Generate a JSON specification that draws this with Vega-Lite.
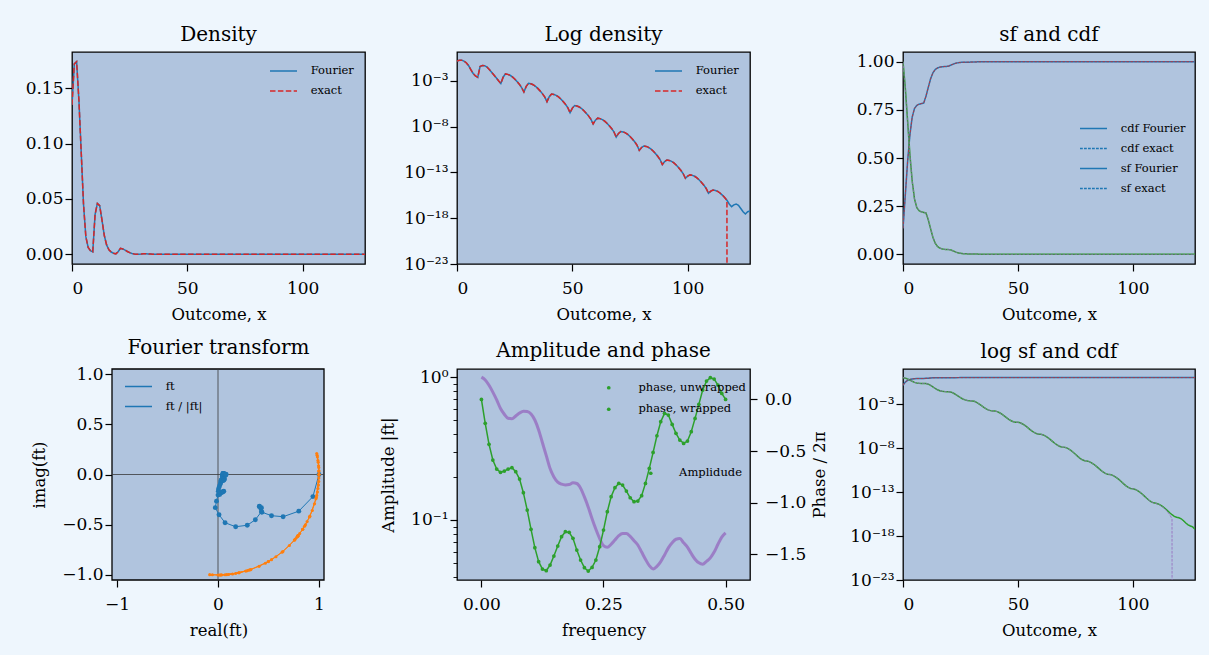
{
"$schema": "https://vega.github.io/schema/vega-lite/v6.json",
"autosize": "none",
"padding": {"left": 71, "top": 52, "right": 1138, "bottom": 603},
"background": "#eef6fd",
"datasets": {
"dens": [
{"x":0,"F":0.135,"E":0.135},{"x":1,"F":0.172,"E":0.172},{"x":2,"F":0.174,"E":0.174},{"x":3,"F":0.139,"E":0.139},{"x":4,"F":0.092,"E":0.092},{"x":5,"F":0.045,"E":0.045},{"x":6,"F":0.016,"E":0.016},{"x":7,"F":0.0062,"E":0.0062},{"x":8,"F":0.0033,"E":0.0033},{"x":9,"F":0.0023,"E":0.0023},
{"x":10,"F":0.036,"E":0.036},{"x":11,"F":0.046,"E":0.046},{"x":12,"F":0.044,"E":0.044},{"x":13,"F":0.031,"E":0.031},{"x":14,"F":0.017,"E":0.017},{"x":15,"F":0.0085,"E":0.0085},{"x":16,"F":0.0042,"E":0.0042},{"x":17,"F":0.0021,"E":0.0021},{"x":18,"F":0.001,"E":0.001},{"x":19,"F":0.0005,"E":0.0005},
{"x":20,"F":0.0024,"E":0.0024},{"x":21,"F":0.0055,"E":0.0055},{"x":22,"F":0.0049,"E":0.0049},{"x":23,"F":0.0039,"E":0.0039},{"x":24,"F":0.0026,"E":0.0026},{"x":25,"F":0.00155,"E":0.00155},{"x":26,"F":0.00083,"E":0.00083},{"x":27,"F":0.00042,"E":0.00042},{"x":28,"F":0.00018,"E":0.00018},{"x":29,"F":5.75e-5,"E":5.75e-5},
{"x":30,"F":2.4e-4,"E":2.4e-4},{"x":31,"F":5.13e-4,"E":5.13e-4},{"x":32,"F":4.57e-4,"E":4.57e-4},{"x":33,"F":3.63e-4,"E":3.63e-4},{"x":34,"F":2.45e-4,"E":2.45e-4},{"x":35,"F":1.45e-4,"E":1.45e-4},{"x":36,"F":7.76e-5,"E":7.76e-5},{"x":37,"F":3.89e-5,"E":3.89e-5},{"x":38,"F":1.7e-5,"E":1.7e-5},{"x":39,"F":5.13e-6,"E":5.13e-6},
{"x":40,"F":1.82e-5,"E":1.82e-5},{"x":41,"F":3.55e-5,"E":3.55e-5},{"x":42,"F":3.16e-5,"E":3.16e-5},{"x":43,"F":2.51e-5,"E":2.51e-5},{"x":44,"F":1.7e-5,"E":1.7e-5},{"x":45,"F":1.0e-5,"E":1.0e-5},{"x":46,"F":5.37e-6,"E":5.37e-6},{"x":47,"F":2.69e-6,"E":2.69e-6},{"x":48,"F":1.17e-6,"E":1.17e-6},{"x":49,"F":3.24e-7,"E":3.24e-7},
{"x":50,"F":1.02e-6,"E":1.02e-6},{"x":51,"F":1.91e-6,"E":1.91e-6},{"x":52,"F":1.7e-6,"E":1.7e-6},{"x":53,"F":1.35e-6,"E":1.35e-6},{"x":54,"F":9.12e-7,"E":9.12e-7},{"x":55,"F":5.37e-7,"E":5.37e-7},{"x":56,"F":2.88e-7,"E":2.88e-7},{"x":57,"F":1.45e-7,"E":1.45e-7},{"x":58,"F":6.31e-8,"E":6.31e-8},{"x":59,"F":1.91e-8,"E":1.91e-8},
{"x":60,"F":4.9e-8,"E":4.9e-8},{"x":61,"F":8.13e-8,"E":8.13e-8},{"x":62,"F":7.24e-8,"E":7.24e-8},{"x":63,"F":5.75e-8,"E":5.75e-8},{"x":64,"F":3.89e-8,"E":3.89e-8},{"x":65,"F":2.29e-8,"E":2.29e-8},{"x":66,"F":1.23e-8,"E":1.23e-8},{"x":67,"F":6.17e-9,"E":6.17e-9},{"x":68,"F":2.69e-9,"E":2.69e-9},{"x":69,"F":7.08e-10,"E":7.08e-10},
{"x":70,"F":1.78e-9,"E":1.78e-9},{"x":71,"F":2.88e-9,"E":2.88e-9},{"x":72,"F":2.57e-9,"E":2.57e-9},{"x":73,"F":2.04e-9,"E":2.04e-9},{"x":74,"F":1.38e-9,"E":1.38e-9},{"x":75,"F":8.13e-10,"E":8.13e-10},{"x":76,"F":4.37e-10,"E":4.37e-10},{"x":77,"F":2.19e-10,"E":2.19e-10},{"x":78,"F":9.55e-11,"E":9.55e-11},{"x":79,"F":2.51e-11,"E":2.51e-11},
{"x":80,"F":5.13e-11,"E":5.13e-11},{"x":81,"F":7.59e-11,"E":7.59e-11},{"x":82,"F":6.76e-11,"E":6.76e-11},{"x":83,"F":5.37e-11,"E":5.37e-11},{"x":84,"F":3.63e-11,"E":3.63e-11},{"x":85,"F":2.14e-11,"E":2.14e-11},{"x":86,"F":1.15e-11,"E":1.15e-11},{"x":87,"F":5.75e-12,"E":5.75e-12},{"x":88,"F":2.51e-12,"E":2.51e-12},{"x":89,"F":7.08e-13,"E":7.08e-13},
{"x":90,"F":1.48e-12,"E":1.48e-12},{"x":91,"F":2.24e-12,"E":2.24e-12},{"x":92,"F":2.0e-12,"E":2.0e-12},{"x":93,"F":1.58e-12,"E":1.58e-12},{"x":94,"F":1.07e-12,"E":1.07e-12},{"x":95,"F":6.31e-13,"E":6.31e-13},{"x":96,"F":3.39e-13,"E":3.39e-13},{"x":97,"F":1.7e-13,"E":1.7e-13},{"x":98,"F":7.41e-14,"E":7.41e-14},{"x":99,"F":2.24e-14,"E":2.24e-14},
{"x":100,"F":3.89e-14,"E":3.89e-14},{"x":101,"F":5.25e-14,"E":5.25e-14},{"x":102,"F":4.68e-14,"E":4.68e-14},{"x":103,"F":3.72e-14,"E":3.72e-14},{"x":104,"F":2.51e-14,"E":2.51e-14},{"x":105,"F":1.48e-14,"E":1.48e-14},{"x":106,"F":7.94e-15,"E":7.94e-15},{"x":107,"F":3.98e-15,"E":3.98e-15},{"x":108,"F":1.74e-15,"E":1.74e-15},{"x":109,"F":5.25e-16,"E":5.25e-16},
{"x":110,"F":8.91e-16,"E":8.91e-16},{"x":111,"F":1.17e-15,"E":1.17e-15},{"x":112,"F":1.05e-15,"E":1.05e-15},{"x":113,"F":8.32e-16,"E":8.32e-16},{"x":114,"F":5.62e-16,"E":5.62e-16},{"x":115,"F":3.31e-16,"E":3.31e-16},{"x":116,"F":1.78e-16,"E":1.78e-16},{"x":117,"F":8.91e-17,"E":8.91e-17},{"x":118,"F":3.55e-17,"E":1e-300},{"x":119,"F":1.78e-17,"E":1e-300},
{"x":120,"F":2.82e-17,"E":1e-300},{"x":121,"F":3.55e-17,"E":1e-300},{"x":122,"F":2.51e-17,"E":1e-300},{"x":123,"F":1.12e-17,"E":1e-300},{"x":124,"F":5.01e-18,"E":1e-300},{"x":125,"F":2.82e-18,"E":1e-300},{"x":126,"F":5.01e-18,"E":1e-300},{"x":127,"F":6.31e-18,"E":1e-300}
],
"cum": [
{"x":0,"cF":0.135,"cE":0.135,"sF":1,"sE":1},{"x":1,"cF":0.307,"cE":0.307,"sF":0.8647,"sE":0.8647},{"x":2,"cF":0.481,"cE":0.481,"sF":0.6927,"sE":0.6927},{"x":3,"cF":0.62,"cE":0.62,"sF":0.5187,"sE":0.5187},{"x":4,"cF":0.712,"cE":0.712,"sF":0.3797,"sE":0.3797},{"x":5,"cF":0.757,"cE":0.757,"sF":0.2877,"sE":0.2877},{"x":6,"cF":0.773,"cE":0.773,"sF":0.2427,"sE":0.2427},{"x":7,"cF":0.7792,"cE":0.7792,"sF":0.2267,"sE":0.2267},{"x":8,"cF":0.7825,"cE":0.7825,"sF":0.2205,"sE":0.2205},{"x":9,"cF":0.7848,"cE":0.7848,"sF":0.2172,"sE":0.2172},
{"x":10,"cF":0.8208,"cE":0.8208,"sF":0.2149,"sE":0.2149},{"x":11,"cF":0.8668,"cE":0.8668,"sF":0.1789,"sE":0.1789},{"x":12,"cF":0.9108,"cE":0.9108,"sF":0.1329,"sE":0.1329},{"x":13,"cF":0.9418,"cE":0.9418,"sF":0.0889,"sE":0.0889},{"x":14,"cF":0.9588,"cE":0.9588,"sF":0.0579,"sE":0.0579},{"x":15,"cF":0.9673,"cE":0.9673,"sF":0.0409,"sE":0.0409},{"x":16,"cF":0.9715,"cE":0.9715,"sF":0.0324,"sE":0.0324},{"x":17,"cF":0.9736,"cE":0.9736,"sF":0.0282,"sE":0.0282},{"x":18,"cF":0.9746,"cE":0.9746,"sF":0.0261,"sE":0.0261},{"x":19,"cF":0.9751,"cE":0.9751,"sF":0.0251,"sE":0.0251},
{"x":20,"cF":0.9775,"cE":0.9775,"sF":0.0246,"sE":0.0246},{"x":21,"cF":0.983,"cE":0.983,"sF":0.0222,"sE":0.0222},{"x":22,"cF":0.9879,"cE":0.9879,"sF":0.0167,"sE":0.0167},{"x":23,"cF":0.9918,"cE":0.9918,"sF":0.0118,"sE":0.0118},{"x":24,"cF":0.9944,"cE":0.9944,"sF":0.0079,"sE":0.0079},{"x":25,"cF":0.99595,"cE":0.99595,"sF":0.0053,"sE":0.0053},{"x":26,"cF":0.99678,"cE":0.99678,"sF":0.00375,"sE":0.00375},{"x":27,"cF":0.9972,"cE":0.9972,"sF":0.00292,"sE":0.00292},{"x":28,"cF":0.99738,"cE":0.99738,"sF":0.0025,"sE":0.0025},{"x":29,"cF":0.99744,"cE":0.99744,"sF":0.00232,"sE":0.00232},
{"x":30,"cF":0.99768,"cE":0.99768,"sF":0.002257,"sE":0.002257},{"x":31,"cF":0.99819,"cE":0.99819,"sF":0.002017,"sE":0.002017},{"x":32,"cF":0.99865,"cE":0.99865,"sF":0.001504,"sE":0.001504},{"x":33,"cF":0.99901,"cE":0.99901,"sF":0.001047,"sE":0.001047},{"x":34,"cF":0.99926,"cE":0.99926,"sF":0.000684,"sE":0.000684},{"x":35,"cF":0.9994,"cE":0.9994,"sF":0.000439,"sE":0.000439},{"x":36,"cF":0.99948,"cE":0.99948,"sF":0.000294,"sE":0.000294},{"x":37,"cF":0.99952,"cE":0.99952,"sF":0.000216,"sE":0.000216},{"x":38,"cF":0.99954,"cE":0.99954,"sF":0.000177,"sE":0.000177},{"x":39,"cF":0.99954,"cE":0.99954,"sF":0.00016,"sE":0.00016},
{"x":40,"cF":0.99956,"cE":0.99956,"sF":1.553e-4,"sE":1.553e-4},{"x":41,"cF":0.9996,"cE":0.9996,"sF":1.371e-4,"sE":1.371e-4},{"x":42,"cF":0.99963,"cE":0.99963,"sF":1.016e-4,"sE":1.016e-4},{"x":43,"cF":0.99966,"cE":0.99966,"sF":7.0e-5,"sE":7.0e-5},{"x":44,"cF":0.99968,"cE":0.99968,"sF":4.49e-5,"sE":4.49e-5},{"x":45,"cF":0.9997,"cE":0.9997,"sF":2.79e-5,"sE":2.79e-5},{"x":46,"cF":0.9997,"cE":0.9997,"sF":1.79e-5,"sE":1.79e-5},{"x":47,"cF":0.9997,"cE":0.9997,"sF":1.253e-5,"sE":1.253e-5},{"x":48,"cF":0.9997,"cE":0.9997,"sF":9.84e-6,"sE":9.84e-6},{"x":49,"cF":0.9997,"cE":0.9997,"sF":8.62e-6,"sE":8.62e-6},
{"x":50,"cF":0.9997,"cE":0.9997,"sF":8.3e-6,"sE":8.3e-6},{"x":51,"cF":0.9997,"cE":0.9997,"sF":7.28e-6,"sE":7.28e-6},{"x":52,"cF":0.9997,"cE":0.9997,"sF":5.37e-6,"sE":5.37e-6},{"x":53,"cF":0.9997,"cE":0.9997,"sF":3.67e-6,"sE":3.67e-6},{"x":54,"cF":0.9997,"cE":0.9997,"sF":2.32e-6,"sE":2.32e-6},{"x":55,"cF":0.9997,"cE":0.9997,"sF":1.408e-6,"sE":1.408e-6},{"x":56,"cF":0.9997,"cE":0.9997,"sF":8.71e-7,"sE":8.71e-7},{"x":57,"cF":0.9997,"cE":0.9997,"sF":5.83e-7,"sE":5.83e-7},{"x":58,"cF":0.9997,"cE":0.9997,"sF":4.38e-7,"sE":4.38e-7},{"x":59,"cF":0.9997,"cE":0.9997,"sF":3.75e-7,"sE":3.75e-7},
{"x":60,"cF":0.9997,"cE":0.9997,"sF":3.565e-7,"sE":3.565e-7},{"x":61,"cF":0.9997,"cE":0.9997,"sF":3.075e-7,"sE":3.075e-7},{"x":62,"cF":0.9997,"cE":0.9997,"sF":2.262e-7,"sE":2.262e-7},{"x":63,"cF":0.9997,"cE":0.9997,"sF":1.538e-7,"sE":1.538e-7},{"x":64,"cF":0.9997,"cE":0.9997,"sF":9.63e-8,"sE":9.63e-8},{"x":65,"cF":0.9997,"cE":0.9997,"sF":5.74e-8,"sE":5.74e-8},{"x":66,"cF":0.9997,"cE":0.9997,"sF":3.45e-8,"sE":3.45e-8},{"x":67,"cF":0.9997,"cE":0.9997,"sF":2.22e-8,"sE":2.22e-8},{"x":68,"cF":0.9997,"cE":0.9997,"sF":1.603e-8,"sE":1.603e-8},{"x":69,"cF":0.9997,"cE":0.9997,"sF":1.334e-8,"sE":1.334e-8},
{"x":70,"cF":0.9997,"cE":0.9997,"sF":1.258e-8,"sE":1.258e-8},{"x":71,"cF":0.9997,"cE":0.9997,"sF":1.08e-8,"sE":1.08e-8},{"x":72,"cF":0.9997,"cE":0.9997,"sF":7.92e-9,"sE":7.92e-9},{"x":73,"cF":0.9997,"cE":0.9997,"sF":5.35e-9,"sE":5.35e-9},{"x":74,"cF":0.9997,"cE":0.9997,"sF":3.31e-9,"sE":3.31e-9},{"x":75,"cF":0.9997,"cE":0.9997,"sF":1.93e-9,"sE":1.93e-9},{"x":76,"cF":0.9997,"cE":0.9997,"sF":1.117e-9,"sE":1.117e-9},{"x":77,"cF":0.9997,"cE":0.9997,"sF":6.8e-10,"sE":6.8e-10},{"x":78,"cF":0.9997,"cE":0.9997,"sF":4.61e-10,"sE":4.61e-10},{"x":79,"cF":0.9997,"cE":0.9997,"sF":3.655e-10,"sE":3.655e-10},
{"x":80,"cF":0.9997,"cE":0.9997,"sF":3.365e-10,"sE":3.365e-10},{"x":81,"cF":0.9997,"cE":0.9997,"sF":2.852e-10,"sE":2.852e-10},{"x":82,"cF":0.9997,"cE":0.9997,"sF":2.093e-10,"sE":2.093e-10},{"x":83,"cF":0.9997,"cE":0.9997,"sF":1.417e-10,"sE":1.417e-10},{"x":84,"cF":0.9997,"cE":0.9997,"sF":8.8e-11,"sE":8.8e-11},{"x":85,"cF":0.9997,"cE":0.9997,"sF":5.17e-11,"sE":5.17e-11},{"x":86,"cF":0.9997,"cE":0.9997,"sF":3.03e-11,"sE":3.03e-11},{"x":87,"cF":0.9997,"cE":0.9997,"sF":1.88e-11,"sE":1.88e-11},{"x":88,"cF":0.9997,"cE":0.9997,"sF":1.305e-11,"sE":1.305e-11},{"x":89,"cF":0.9997,"cE":0.9997,"sF":1.054e-11,"sE":1.054e-11},
{"x":90,"cF":0.9997,"cE":0.9997,"sF":9.841e-12,"sE":9.841e-12},{"x":91,"cF":0.9997,"cE":0.9997,"sF":8.36e-12,"sE":8.36e-12},{"x":92,"cF":0.9997,"cE":0.9997,"sF":6.12e-12,"sE":6.12e-12},{"x":93,"cF":0.9997,"cE":0.9997,"sF":4.12e-12,"sE":4.12e-12},{"x":94,"cF":0.9997,"cE":0.9997,"sF":2.54e-12,"sE":2.54e-12},{"x":95,"cF":0.9997,"cE":0.9997,"sF":1.47e-12,"sE":1.47e-12},{"x":96,"cF":0.9997,"cE":0.9997,"sF":8.39e-13,"sE":8.39e-13},{"x":97,"cF":0.9997,"cE":0.9997,"sF":5.0e-13,"sE":5.0e-13},{"x":98,"cF":0.9997,"cE":0.9997,"sF":3.3e-13,"sE":3.3e-13},{"x":99,"cF":0.9997,"cE":0.9997,"sF":2.56e-13,"sE":2.56e-13},
{"x":100,"cF":0.9997,"cE":0.9997,"sF":2.348e-13,"sE":2.348e-13},{"x":101,"cF":0.9997,"cE":0.9997,"sF":1.959e-13,"sE":1.959e-13},{"x":102,"cF":0.9997,"cE":0.9997,"sF":1.434e-13,"sE":1.434e-13},{"x":103,"cF":0.9997,"cE":0.9997,"sF":9.66e-14,"sE":9.66e-14},{"x":104,"cF":0.9997,"cE":0.9997,"sF":5.94e-14,"sE":5.94e-14},{"x":105,"cF":0.9997,"cE":0.9997,"sF":3.43e-14,"sE":3.43e-14},{"x":106,"cF":0.9997,"cE":0.9997,"sF":1.95e-14,"sE":1.95e-14},{"x":107,"cF":0.9997,"cE":0.9997,"sF":1.156e-14,"sE":1.156e-14},{"x":108,"cF":0.9997,"cE":0.9997,"sF":7.58e-15,"sE":7.58e-15},{"x":109,"cF":0.9997,"cE":0.9997,"sF":5.84e-15,"sE":5.84e-15},
{"x":110,"cF":0.9997,"cE":0.9997,"sF":5.275e-15,"sE":5.103e-15},{"x":111,"cF":0.9997,"cE":0.9997,"sF":4.384e-15,"sE":4.212e-15},{"x":112,"cF":0.9997,"cE":0.9997,"sF":3.214e-15,"sE":3.042e-15},{"x":113,"cF":0.9997,"cE":0.9997,"sF":2.164e-15,"sE":1.992e-15},{"x":114,"cF":0.9997,"cE":0.9997,"sF":1.332e-15,"sE":1.16e-15},{"x":115,"cF":0.9997,"cE":0.9997,"sF":7.7e-16,"sE":5.98e-16},{"x":116,"cF":0.9997,"cE":0.9997,"sF":4.39e-16,"sE":2.67e-16},{"x":117,"cF":0.9997,"cE":0.9997,"sF":2.61e-16,"sE":8.9e-17},{"x":118,"cF":0.9997,"cE":0.9997,"sF":1.72e-16,"sE":1e-300},{"x":119,"cF":0.9997,"cE":0.9997,"sF":1.365e-16,"sE":1e-300},
{"x":120,"cF":0.9997,"cE":0.9997,"sF":1.187e-16,"sE":1e-300},{"x":121,"cF":0.9997,"cE":0.9997,"sF":9.05e-17,"sE":1e-300},{"x":122,"cF":0.9997,"cE":0.9997,"sF":5.5e-17,"sE":1e-300},{"x":123,"cF":0.9997,"cE":0.9997,"sF":2.99e-17,"sE":1e-300},{"x":124,"cF":0.9997,"cE":0.9997,"sF":1.87e-17,"sE":1e-300},{"x":125,"cF":0.9997,"cE":0.9997,"sF":1.369e-17,"sE":1e-300},{"x":126,"cF":0.9997,"cE":0.9997,"sF":1.087e-17,"sE":1e-300},{"x":127,"cF":0.9997,"cE":0.9997,"sF":5.86e-18,"sE":1e-300}
],
"ft": [
{"k":0,"re":1,"im":0,"nr":1,"ni":0},{"k":1,"re":0.94,"im":-0.22,"nr":0.974,"ni":-0.228},{"k":2,"re":0.8,"im":-0.365,"nr":0.91,"ni":-0.415},{"k":3,"re":0.645,"im":-0.42,"nr":0.838,"ni":-0.546},{"k":4,"re":0.53,"im":-0.41,"nr":0.791,"ni":-0.612},{"k":5,"re":0.435,"im":-0.375,"nr":0.757,"ni":-0.653},{"k":6,"re":0.43,"im":-0.33,"nr":0.793,"ni":-0.609},{"k":7,"re":0.41,"im":-0.315,"nr":0.793,"ni":-0.609},{"k":8,"re":0.41,"im":-0.32,"nr":0.788,"ni":-0.616},{"k":9,"re":0.425,"im":-0.34,"nr":0.78,"ni":-0.625},
{"k":10,"re":0.43,"im":-0.37,"nr":0.758,"ni":-0.652},{"k":11,"re":0.37,"im":-0.45,"nr":0.635,"ni":-0.773},{"k":12,"re":0.29,"im":-0.505,"nr":0.498,"ni":-0.867},{"k":13,"re":0.175,"im":-0.52,"nr":0.319,"ni":-0.948},{"k":14,"re":0.07,"im":-0.48,"nr":0.144,"ni":-0.99},{"k":15,"re":0.01,"im":-0.4,"nr":0.025,"ni":-1.0},{"k":16,"re":-0.027,"im":-0.33,"nr":-0.082,"ni":-0.997},{"k":17,"re":-0.015,"im":-0.265,"nr":-0.056,"ni":-0.998},{"k":18,"re":0.0,"im":-0.205,"nr":0.0,"ni":-1.0},{"k":19,"re":0.017,"im":-0.199,"nr":0.087,"ni":-0.996},
{"k":20,"re":0.038,"im":-0.18,"nr":0.208,"ni":-0.978},{"k":21,"re":0.052,"im":-0.17,"nr":0.292,"ni":-0.956},{"k":22,"re":0.057,"im":-0.166,"nr":0.326,"ni":-0.946},{"k":23,"re":0.049,"im":-0.17,"nr":0.276,"ni":-0.961},{"k":24,"re":0.032,"im":-0.179,"nr":0.174,"ni":-0.985},{"k":25,"re":0.013,"im":-0.18,"nr":0.07,"ni":-0.998},{"k":26,"re":0.003,"im":-0.167,"nr":0.017,"ni":-1.0},{"k":27,"re":0.005,"im":-0.145,"nr":0.035,"ni":-0.999},{"k":28,"re":0.013,"im":-0.122,"nr":0.105,"ni":-0.995},{"k":29,"re":0.021,"im":-0.1,"nr":0.208,"ni":-0.978},
{"k":30,"re":0.027,"im":-0.082,"nr":0.309,"ni":-0.951},{"k":31,"re":0.03,"im":-0.068,"nr":0.407,"ni":-0.914},{"k":32,"re":0.031,"im":-0.058,"nr":0.469,"ni":-0.883},{"k":33,"re":0.032,"im":-0.055,"nr":0.5,"ni":-0.866},{"k":34,"re":0.036,"im":-0.058,"nr":0.53,"ni":-0.848},{"k":35,"re":0.041,"im":-0.059,"nr":0.574,"ni":-0.819},{"k":36,"re":0.05,"im":-0.06,"nr":0.643,"ni":-0.766},{"k":37,"re":0.057,"im":-0.057,"nr":0.707,"ni":-0.707},{"k":38,"re":0.061,"im":-0.051,"nr":0.766,"ni":-0.643},{"k":39,"re":0.062,"im":-0.045,"nr":0.809,"ni":-0.588},
{"k":40,"re":0.06,"im":-0.039,"nr":0.839,"ni":-0.545},{"k":41,"re":0.057,"im":-0.035,"nr":0.857,"ni":-0.515},{"k":42,"re":0.052,"im":-0.03,"nr":0.866,"ni":-0.5},{"k":43,"re":0.047,"im":-0.025,"nr":0.883,"ni":-0.469},{"k":44,"re":0.044,"im":-0.02,"nr":0.906,"ni":-0.423},{"k":45,"re":0.042,"im":-0.016,"nr":0.934,"ni":-0.358},{"k":46,"re":0.045,"im":-0.014,"nr":0.956,"ni":-0.292},{"k":47,"re":0.049,"im":-0.012,"nr":0.97,"ni":-0.242},{"k":48,"re":0.056,"im":-0.012,"nr":0.978,"ni":-0.208},{"k":49,"re":0.063,"im":-0.011,"nr":0.985,"ni":-0.174},
{"k":50,"re":0.068,"im":-0.01,"nr":0.99,"ni":-0.139},{"k":51,"re":0.073,"im":-0.008,"nr":0.995,"ni":-0.105},{"k":52,"re":0.074,"im":-0.005,"nr":0.998,"ni":-0.07},{"k":53,"re":0.069,"im":-0.002,"nr":0.999,"ni":-0.035},{"k":54,"re":0.065,"im":0.0,"nr":1.0,"ni":0.0},{"k":55,"re":0.058,"im":0.002,"nr":0.999,"ni":0.035},{"k":56,"re":0.053,"im":0.005,"nr":0.996,"ni":0.087},{"k":57,"re":0.05,"im":0.007,"nr":0.99,"ni":0.139},{"k":58,"re":0.048,"im":0.009,"nr":0.982,"ni":0.191},{"k":59,"re":0.05,"im":0.011,"nr":0.978,"ni":0.208},
{"k":60,"re":0.053,"im":0.009,"nr":0.985,"ni":0.174},{"k":61,"re":0.06,"im":0.007,"nr":0.993,"ni":0.122},{"k":62,"re":0.068,"im":0.005,"nr":0.998,"ni":0.07},{"k":63,"re":0.076,"im":0.003,"nr":0.999,"ni":0.035},{"k":64,"re":0.081,"im":0.0,"nr":1.0,"ni":0.0}
],
"amp": [
{"f":0,"a":1.0,"p":0.0},{"f":0.0078,"a":0.955,"p":-0.232},{"f":0.0156,"a":0.877,"p":-0.435},{"f":0.0234,"a":0.785,"p":-0.587},{"f":0.0313,"a":0.692,"p":-0.674},{"f":0.0391,"a":0.603,"p":-0.706},{"f":0.0469,"a":0.55,"p":-0.694},{"f":0.0547,"a":0.515,"p":-0.674},{"f":0.0625,"a":0.511,"p":-0.661},{"f":0.0703,"a":0.535,"p":-0.7},
{"f":0.0781,"a":0.56,"p":-0.771},{"f":0.0859,"a":0.578,"p":-0.903},{"f":0.0938,"a":0.575,"p":-1.071},{"f":0.1016,"a":0.552,"p":-1.258},{"f":0.1094,"a":0.501,"p":-1.435},{"f":0.1172,"a":0.427,"p":-1.571},{"f":0.125,"a":0.347,"p":-1.642},{"f":0.1328,"a":0.282,"p":-1.658},{"f":0.1406,"a":0.229,"p":-1.603},{"f":0.1484,"a":0.2,"p":-1.516},
{"f":0.1563,"a":0.184,"p":-1.419},{"f":0.1641,"a":0.178,"p":-1.329},{"f":0.1719,"a":0.176,"p":-1.281},{"f":0.1797,"a":0.177,"p":-1.287},{"f":0.1875,"a":0.182,"p":-1.345},{"f":0.1953,"a":0.18,"p":-1.458},{"f":0.2031,"a":0.167,"p":-1.555},{"f":0.2109,"a":0.145,"p":-1.629},{"f":0.2188,"a":0.123,"p":-1.661},{"f":0.2266,"a":0.102,"p":-1.626},
{"f":0.2344,"a":0.0861,"p":-1.555},{"f":0.2422,"a":0.0741,"p":-1.426},{"f":0.25,"a":0.0661,"p":-1.265},{"f":0.2578,"a":0.0643,"p":-1.087},{"f":0.2656,"a":0.0676,"p":-0.942},{"f":0.2734,"a":0.0724,"p":-0.855},{"f":0.2813,"a":0.0776,"p":-0.813},{"f":0.2891,"a":0.0804,"p":-0.829},{"f":0.2969,"a":0.0804,"p":-0.887},{"f":0.3047,"a":0.0767,"p":-0.952},
{"f":0.3125,"a":0.0716,"p":-0.99},{"f":0.3203,"a":0.0668,"p":-0.984},{"f":0.3281,"a":0.0596,"p":-0.932},{"f":0.3359,"a":0.0531,"p":-0.813},{"f":0.3438,"a":0.0479,"p":-0.668},{"f":0.3516,"a":0.0454,"p":-0.513},{"f":0.3594,"a":0.0473,"p":-0.352},{"f":0.3672,"a":0.0511,"p":-0.216},{"f":0.375,"a":0.0569,"p":-0.135},{"f":0.3828,"a":0.0638,"p":-0.152},
{"f":0.3906,"a":0.0692,"p":-0.242},{"f":0.3984,"a":0.0733,"p":-0.329},{"f":0.4063,"a":0.0741,"p":-0.394},{"f":0.4141,"a":0.0692,"p":-0.426},{"f":0.4219,"a":0.0646,"p":-0.403},{"f":0.4297,"a":0.0582,"p":-0.313},{"f":0.4375,"a":0.0531,"p":-0.184},{"f":0.4453,"a":0.0501,"p":-0.048},{"f":0.4531,"a":0.049,"p":0.09},{"f":0.4609,"a":0.0513,"p":0.177},
{"f":0.4688,"a":0.0543,"p":0.21},{"f":0.4766,"a":0.0596,"p":0.197},{"f":0.4844,"a":0.0676,"p":0.139},{"f":0.4922,"a":0.0759,"p":0.058},{"f":0.5,"a":0.0813,"p":0.0}
]
},
"columns": 6,
"bounds": "flush",
"spacing": {"row": 105, "column": 0},
"concat": [
{"width": 1, "height": 212, "data": {"values": [{}]}, "mark": {"type": "text", "text": ""}, "view": {"stroke": null, "fill": null}},
{
 "width": 293, "height": 212,
 "title": "Density",
 "data": {"name": "dens"},
 "encoding": {"x": {"field": "x", "type": "quantitative", "scale": {"domain": [0, 127], "nice": false, "zero": false}, "axis": {"values": [0, 50, 100], "format": "d", "title": "Outcome, x"}}},
 "layer": [
  {"mark": {"type": "line", "strokeWidth": 1.5, "clip": true},
   "encoding": {"y": {"field": "F", "type": "quantitative", "title": null, "scale": {"domain": [-0.0087, 0.1827], "nice": false, "zero": false}, "axis": {"values": [0, 0.05, 0.1, 0.15], "format": ".2f"}},
     "stroke": {"datum": "Fourier", "scale": {"domain": ["Fourier", "exact"], "range": ["#1f77b4", "#d62728"]},
       "legend": {"orient": "none", "legendX": 198, "legendY": 4.5, "title": null, "encode": {"symbols": {"update": {"strokeDash": {"signal": "datum.value == 'exact' ? [5.5, 2.4] : [1, 0]"}}}}}}}},
  {"mark": {"type": "line", "strokeWidth": 1.5, "strokeDash": [5.5, 2.4], "clip": true},
   "encoding": {"y": {"field": "E", "type": "quantitative", "title": null}, "stroke": {"datum": "exact"}}}
 ]
},
{"width": 92, "height": 212, "data": {"values": [{}]}, "mark": {"type": "text", "text": ""}, "view": {"stroke": null, "fill": null}},
{
 "width": 293, "height": 212,
 "title": "Log density",
 "data": {"name": "dens"},
 "encoding": {"x": {"field": "x", "type": "quantitative", "scale": {"domain": [0, 127], "nice": false, "zero": false}, "axis": {"values": [0, 50, 100], "format": "d", "title": "Outcome, x"}}},
 "layer": [
  {"mark": {"type": "line", "strokeWidth": 1.5, "clip": true},
   "encoding": {"y": {"field": "F", "type": "quantitative", "title": null, "scale": {"type": "log", "domain": [1e-23, 1.35], "nice": false}, "axis": {"values": [1e-23, 1e-18, 1e-13, 1e-8, 1e-3], "labelExpr": "'10' + (datum.value < 1e-20 ? '⁻²³' : datum.value < 1e-15 ? '⁻¹⁸' : datum.value < 1e-10 ? '⁻¹³' : datum.value < 1e-5 ? '⁻⁸' : '⁻³')"}},
     "color": {"datum": "Fourier ", "scale": {"domain": ["Fourier ", "exact "], "range": ["#1f77b4", "#d62728"]},
       "legend": {"orient": "none", "legendX": 583, "legendY": 4.5, "title": null, "encode": {"symbols": {"update": {"strokeDash": {"signal": "datum.value == 'exact ' ? [5.5, 2.4] : [1, 0]"}}}}}}}},
  {"mark": {"type": "line", "strokeWidth": 1.5, "strokeDash": [5.5, 2.4], "clip": true},
   "encoding": {"y": {"field": "E", "type": "quantitative", "title": null}, "color": {"datum": "exact "}}}
 ]
},
{"width": 153, "height": 212, "data": {"values": [{}]}, "mark": {"type": "text", "text": ""}, "view": {"stroke": null, "fill": null}},
{
 "width": 292, "height": 212,
 "title": "sf and cdf",
 "data": {"name": "cum"},
 "encoding": {"x": {"field": "x", "type": "quantitative", "scale": {"domain": [0, 127], "nice": false, "zero": false}, "axis": {"values": [0, 50, 100], "format": "d", "title": "Outcome, x"}}},
 "layer": [
  {"mark": {"type": "line", "strokeWidth": 1.5, "color": "#1f77b4", "clip": true},
   "encoding": {"y": {"field": "cF", "type": "quantitative", "title": null, "scale": {"domain": [-0.05, 1.05], "nice": false, "zero": false}, "axis": {"values": [0, 0.25, 0.5, 0.75, 1], "format": ".2f"}},
     "strokeDash": {"datum": "cdf Fourier", "scale": {"domain": ["cdf Fourier", "cdf exact", "sf Fourier", "sf exact"], "range": [[1, 0], [2.8, 1.2], [1, 0], [2.8, 1.2]]},
       "legend": {"orient": "none", "legendX": 1008, "legendY": 62, "title": null, "encode": {"symbols": {"update": {"strokeWidth": {"signal": "indexof(datum.value, 'exact') > 0 ? 0.8 : 1.5"}}}}}}}},
  {"mark": {"type": "line", "strokeWidth": 0.8, "color": "#d62728", "clip": true},
   "encoding": {"y": {"field": "cE", "type": "quantitative", "title": null}, "strokeDash": {"datum": "cdf exact"}}},
  {"mark": {"type": "line", "strokeWidth": 1.5, "color": "#2ca02c", "clip": true},
   "encoding": {"y": {"field": "sF", "type": "quantitative", "title": null}, "strokeDash": {"datum": "sf Fourier"}}},
  {"mark": {"type": "line", "strokeWidth": 0.8, "color": "#9467bd", "clip": true},
   "encoding": {"y": {"field": "sE", "type": "quantitative", "title": null}, "strokeDash": {"datum": "sf exact"}}}
 ]
},
{"width": 1, "height": 211, "data": {"values": [{}]}, "mark": {"type": "text", "text": ""}, "view": {"stroke": null, "fill": null}},
{
 "width": 293, "height": 211,
 "title": "Fourier transform",
 "view": {"stroke": null, "fill": null},
 "layer": [
  {"data": {"values": [{}]}, "mark": {"type": "rect", "fill": "#b0c4de", "stroke": "#000000", "strokeWidth": 1.3},
   "encoding": {"x": {"datum": -1.05, "type": "quantitative", "scale": {"domain": [-1.4462, 1.4561], "nice": false, "zero": false}, "axis": {"values": [-1, 0, 1], "format": "d", "title": "real(ft)"}},
     "x2": {"datum": 1.05},
     "y": {"datum": -1.05, "type": "quantitative", "scale": {"domain": [-1.05, 1.05], "nice": false, "zero": false}, "axis": {"values": [-1, -0.5, 0, 0.5, 1], "format": ".1f", "title": "imag(ft)", "offset": -40}},
     "y2": {"datum": 1.05}}},
  {"data": {"values": [{}]}, "mark": {"type": "rule", "color": "#3a3a3a", "strokeWidth": 1, "opacity": 0.8}, "encoding": {"x": {"datum": 0, "type": "quantitative"}, "y": {"datum": -1.05, "type": "quantitative"}, "y2": {"datum": 1.05}}},
  {"data": {"values": [{}]}, "mark": {"type": "rule", "color": "#3a3a3a", "strokeWidth": 1, "opacity": 0.8}, "encoding": {"y": {"datum": 0, "type": "quantitative"}, "x": {"datum": -1.05, "type": "quantitative"}, "x2": {"datum": 1.05}}},
  {"data": {"name": "ft"}, "mark": {"type": "line", "strokeWidth": 1, "color": "#1f77b4"},
   "encoding": {"x": {"field": "re", "type": "quantitative"}, "y": {"field": "im", "type": "quantitative"}, "order": {"field": "k"},
     "opacity": {"datum": "ft", "scale": {"domain": ["ft", "ft / |ft|"], "range": [1, 1]},
       "legend": {"orient": "none", "legendX": 53, "legendY": 320, "title": null, "encode": {"symbols": {"update": {"strokeWidth": {"value": 1}}}}}}}},
  {"data": {"name": "ft"}, "mark": {"type": "point", "filled": true, "size": 24, "color": "#1f77b4", "opacity": 1},
   "encoding": {"x": {"field": "re", "type": "quantitative"}, "y": {"field": "im", "type": "quantitative"}}},
  {"data": {"name": "ft"}, "mark": {"type": "line", "strokeWidth": 1, "color": "#ff7f0e"},
   "encoding": {"x": {"field": "nr", "type": "quantitative"}, "y": {"field": "ni", "type": "quantitative"}, "order": {"field": "k"}, "opacity": {"datum": "ft / |ft|"}}},
  {"data": {"name": "ft"}, "mark": {"type": "point", "filled": true, "size": 10, "color": "#ff7f0e", "opacity": 1},
   "encoding": {"x": {"field": "nr", "type": "quantitative"}, "y": {"field": "ni", "type": "quantitative"}}}
 ]
},
{"width": 92, "height": 211, "data": {"values": [{}]}, "mark": {"type": "text", "text": ""}, "view": {"stroke": null, "fill": null}},
{
 "width": 293, "height": 211,
 "title": "Amplitude and phase",
 "data": {"name": "amp"},
 "encoding": {"x": {"field": "f", "type": "quantitative", "scale": {"domain": [-0.05, 0.55], "nice": false, "zero": false}, "axis": {"values": [0, 0.25, 0.5], "format": ".2f", "title": "frequency"}}},
 "layer": [
  {"mark": {"type": "line", "strokeWidth": 3, "color": "#9467bd", "opacity": 0.75, "interpolate": "monotone", "clip": true},
   "encoding": {"y": {"field": "a", "type": "quantitative", "title": "Amplitude |ft|", "scale": {"type": "log", "domain": [0.038, 1.14], "nice": false},
       "axis": {"orient": "left", "values": [0.04, 0.05, 0.06, 0.07, 0.08, 0.09, 0.1, 0.2, 0.3, 0.4, 0.5, 0.6, 0.7, 0.8, 0.9, 1], "labelExpr": "datum.value == 1 ? '10⁰' : datum.value == 0.1 ? '10⁻¹' : ''", "tickSize": {"condition": {"test": "datum.value == 1 || datum.value == 0.1", "value": 7}, "value": 4}, "tickWidth": {"condition": {"test": "datum.value == 1 || datum.value == 0.1", "value": 1.2}, "value": 0.9}}}}},
  {"mark": {"type": "line", "strokeWidth": 1.5, "color": "#2ca02c", "clip": true},
   "encoding": {"y": {"field": "p", "type": "quantitative", "title": "Phase / 2π", "scale": {"domain": [-1.748, 0.294], "nice": false, "zero": false},
       "axis": {"orient": "right", "values": [-1.5, -1, -0.5, 0], "format": ".1f", "titleAngle": 270, "titleBaseline": "top", "titlePadding": 6}}}},
  {"mark": {"type": "point", "filled": true, "size": 14, "color": "#2ca02c", "opacity": 1, "clip": true},
   "encoding": {"y": {"field": "p", "type": "quantitative", "scale": {"domain": [-1.748, 0.294], "nice": false, "zero": false}, "axis": null},
     "size": {"datum": "phase, unwrapped", "scale": {"domain": ["phase, unwrapped", "phase, wrapped"], "range": [14, 14]},
       "legend": {"orient": "none", "legendX": 532, "legendY": 330, "title": null, "symbolType": "circle", "rowPadding": 8.5, "labelOffset": 23.9}},
     "shape": {"datum": "Amplidude", "scale": {"domain": ["Amplidude"], "range": ["circle"]},
       "legend": {"orient": "none", "legendX": 574, "legendY": 415.5, "title": null, "symbolSize": 14, "labelOffset": 22.6}}}}
 ],
 "resolve": {"scale": {"y": "independent"}, "axis": {"y": "independent"}}
},
{"width": 153, "height": 211, "data": {"values": [{}]}, "mark": {"type": "text", "text": ""}, "view": {"stroke": null, "fill": null}},
{
 "width": 292, "height": 211,
 "title": "log sf and cdf",
 "data": {"name": "cum"},
 "encoding": {"x": {"field": "x", "type": "quantitative", "scale": {"domain": [0, 127], "nice": false, "zero": false}, "axis": {"values": [0, 50, 100], "format": "d", "title": "Outcome, x"}}},
 "layer": [
  {"mark": {"type": "line", "strokeWidth": 1.5, "color": "#1f77b4", "clip": true},
   "encoding": {"y": {"field": "cF", "type": "quantitative", "title": null, "scale": {"type": "log", "domain": [1e-23, 9.5], "nice": false}, "axis": {"values": [1e-23, 1e-18, 1e-13, 1e-8, 1e-3], "labelExpr": "'10' + (datum.value < 1e-20 ? '⁻²³' : datum.value < 1e-15 ? '⁻¹⁸' : datum.value < 1e-10 ? '⁻¹³' : datum.value < 1e-5 ? '⁻⁸' : '⁻³')"}}}},
  {"mark": {"type": "line", "strokeWidth": 0.8, "strokeDash": [2.8, 1.2], "color": "#d62728", "clip": true},
   "encoding": {"y": {"field": "cE", "type": "quantitative", "title": null}}},
  {"mark": {"type": "line", "strokeWidth": 1.5, "color": "#2ca02c", "clip": true},
   "encoding": {"y": {"field": "sF", "type": "quantitative", "title": null}}},
  {"mark": {"type": "line", "strokeWidth": 0.8, "strokeDash": [2.8, 1.2], "color": "#9467bd", "clip": true},
   "encoding": {"y": {"field": "sE", "type": "quantitative", "title": null}}}
 ]
}
],
"config": {
 "font": "DejaVu Serif",
 "view": {"fill": "#b0c4de", "stroke": "#000000", "strokeWidth": 1.3},
 "axis": {"domain": false, "grid": false, "tickColor": "#000000", "tickWidth": 1.2, "tickSize": 7, "labelColor": "#000000", "labelFontSize": 17, "titleFontSize": 16.5, "titleFontWeight": "normal", "titleColor": "#000000", "labelFont": "DejaVu Serif", "titleFont": "DejaVu Serif"},
 "axisBottom": {"labelPadding": 9.5, "titlePadding": 9.5},
 "axisLeft": {"labelPadding": 2, "titlePadding": 14},
 "axisRight": {"labelPadding": 7.5, "titlePadding": 6},
 "title": {"font": "DejaVu Serif", "fontSize": 20, "fontWeight": "normal", "color": "#000000", "frame": "group", "anchor": "middle", "offset": 7, "baseline": "alphabetic"},
 "legend": {"labelFont": "DejaVu Serif", "labelFontSize": 11.5, "labelColor": "#000000", "padding": 0, "rowPadding": 0, "labelOffset": 12.7, "symbolType": "stroke", "symbolSize": 729, "symbolStrokeWidth": 1.5, "labelLimit": 400}
}
}
